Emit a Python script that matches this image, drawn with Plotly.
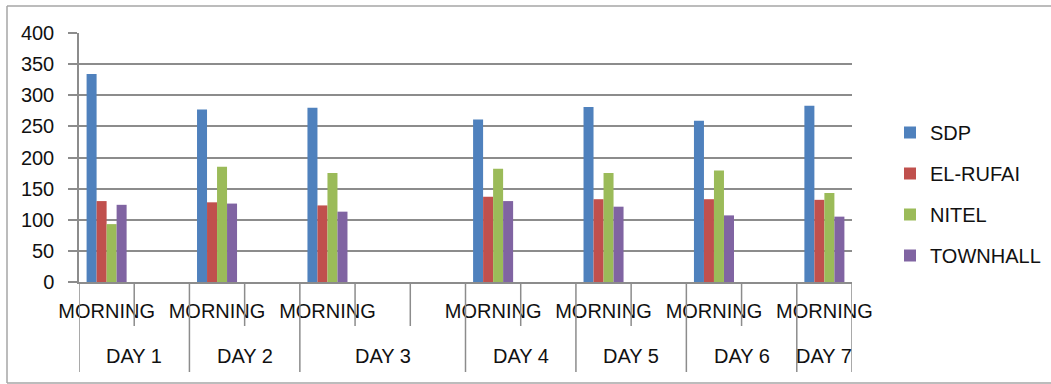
import plotly.graph_objects as go

# ---- data ----
day_labels = ["DAY 1", "DAY 1", "DAY 2", "DAY 2", "DAY 3", "DAY 3", "DAY 3",
              "DAY 4", "DAY 4", "DAY 5", "DAY 5", "DAY 6", "DAY 6", "DAY 7"]
session_labels = ["MORNING", "", "MORNING", "", "MORNING", "", "",
                  "MORNING", "", "MORNING", "", "MORNING", "", "MORNING"]
sdp = [334, None, 277, None, 280, None, None, 261, None, 281, None, 259, None, 283]
el_rufai = [130, None, 128, None, 123, None, None, 137, None, 133, None, 133, None, 132]
nitel = [93, None, 185, None, 175, None, None, 182, None, 175, None, 179, None, 143]
townhall = [124, None, 126, None, 113, None, None, 130, None, 121, None, 107, None, 105]
y_ticks = [0, 50, 100, 150, 200, 250, 300, 350, 400]

series = [("SDP", sdp, "#4F81BD"), ("EL-RUFAI", el_rufai, "#C0504D"),
          ("NITEL", nitel, "#9BBB59"), ("TOWNHALL", townhall, "#8064A2")]

cat_ids = [f"{d}|{i}" for i, d in enumerate(day_labels)]

FONT = "Liberation Sans, Arial, sans-serif"
GRID = "#8c8c8c"
TXT = "#111111"
FS = 20

fig = go.Figure()
for name, vals, color in series:
    fig.add_trace(go.Bar(x=cat_ids, y=vals, name=name, marker_color=color,
                         marker_line_width=0, legendgroup=name))

W, H = 1051, 384
L, R, T, B = 79, 199, 33, 102
pw, ph = W - L - R, H - T - B

def px_to_paper_y(py):
    return (H - B - py) / ph

def px_to_paper_x(px):
    return (px - L) / pw

shapes = []
# category dividers (short) and day dividers (long)
n = len(cat_ids)
for i in range(n + 1):
    pos = i - 0.5
    is_day_break = (i == 0 or i == n or day_labels[i] != day_labels[i - 1])
    y_end = 372 if is_day_break else 326
    shapes.append(dict(type="line", xref="x", yref="paper", x0=pos, x1=pos,
                       y0=0, y1=px_to_paper_y(y_end),
                       line=dict(color=GRID, width=1.5)))

# outer chart frame (left, top, bottom)
fx0, fx1 = px_to_paper_x(7), px_to_paper_x(1060)
fy0, fy1 = px_to_paper_y(383), px_to_paper_y(6)
for (x0, y0, x1, y1) in [(fx0, fy0, fx0, fy1), (fx0, fy1, fx1, fy1), (fx0, fy0, fx1, fy0)]:
    shapes.append(dict(type="line", xref="paper", yref="paper", x0=x0, y0=y0,
                       x1=x1, y1=y1, line=dict(color="#a6a6a6", width=1.5)))

# day labels
annotations = []
unique_days = []
for d in day_labels:
    if d not in unique_days:
        unique_days.append(d)
for d in unique_days:
    idx = [i for i, v in enumerate(day_labels) if v == d]
    center = (idx[0] + idx[-1]) / 2
    annotations.append(dict(x=center, y=px_to_paper_y(356), xref="x", yref="paper",
                            text=d, showarrow=False, xanchor="center", yanchor="middle",
                            font=dict(family=FONT, size=FS, color=TXT)))

fig.update_layout(
    width=W, height=H, autosize=False,
    margin=dict(l=L, r=R, t=T, b=B, autoexpand=False),
    paper_bgcolor="white", plot_bgcolor="white",
    barmode="group", bargap=0.275, bargroupgap=0,
    font=dict(family=FONT, size=FS, color=TXT),
    xaxis=dict(type="category", categoryorder="array", categoryarray=cat_ids,
               tickmode="array", tickvals=cat_ids, ticktext=session_labels,
               ticks="", showgrid=False, showline=True, linecolor=GRID, linewidth=1.5,
               ticklabelstandoff=10, tickfont=dict(family=FONT, size=FS, color=TXT),
               range=[-0.5, n - 0.5], fixedrange=True),
    yaxis=dict(range=[0, 400], tickmode="array", tickvals=y_ticks,
               showgrid=True, gridcolor=GRID, gridwidth=1.5,
               showline=True, linecolor=GRID, linewidth=1.5,
               ticks="outside", ticklen=9, tickcolor=GRID, tickwidth=1.5,
               ticklabelstandoff=10, zeroline=False,
               tickfont=dict(family=FONT, size=FS, color=TXT)),
    legend=dict(x=px_to_paper_x(890), y=px_to_paper_y(113), xanchor="left", yanchor="top",
                tracegroupgap=12, itemwidth=30, bgcolor="rgba(0,0,0,0)",
                font=dict(family=FONT, size=FS, color=TXT)),
    shapes=shapes, annotations=annotations,
)

fig.write_html("out.html")
